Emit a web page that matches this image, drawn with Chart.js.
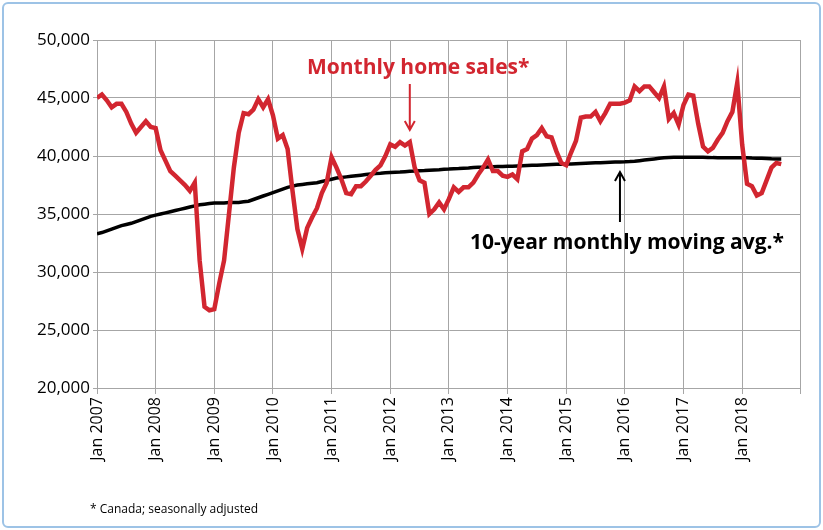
<!DOCTYPE html>
<html>
<head>
<script src="https://cdn.jsdelivr.net/npm/chart.js@4/dist/chart.umd.min.js"></script>
<style>
  body { margin: 0; background: #fff; }
  #wrap { position: absolute; left: 2px; top: 2px; width: 815px; height: 522px; border: 2px solid #9dc3e6; border-radius: 6px; }
  #chart { position: absolute; left: 0; top: 0; }
</style>
</head>
<body>
<div id="wrap"></div>
<canvas id="chart" width="823" height="530"></canvas>
<script>
// monthly values, Jan 2007 .. Sep 2018
const sales = {
    2007: [45000, 45300, 44800, 44200, 44500, 44500, 43800, 42800, 42000, 42500, 43000, 42500],
    2008: [42400, 40500, 39600, 38700, 38300, 37900, 37500, 37000, 37700, 31000, 27000, 26700],
    2009: [26800, 29000, 31000, 35000, 39000, 42000, 43700, 43600, 44000, 44900, 44200, 44900],
    2010: [43500, 41500, 41800, 40600, 37000, 33700, 32000, 33800, 34700, 35500, 36800, 37700],
    2011: [39900, 39000, 38000, 36800, 36700, 37400, 37400, 37800, 38300, 38800, 39200, 40000],
    2012: [41000, 40800, 41200, 40900, 41200, 39000, 37900, 37700, 35000, 35400, 36000, 35400],
    2013: [36300, 37300, 36900, 37300, 37300, 37700, 38400, 39000, 39700, 38700, 38700, 38300],
    2014: [38200, 38400, 38000, 40400, 40600, 41500, 41800, 42400, 41700, 41600, 40400, 39400],
    2015: [39200, 40300, 41300, 43300, 43400, 43400, 43800, 43000, 43700, 44500, 44500, 44500],
    2016: [44600, 44800, 46000, 45600, 46000, 46000, 45500, 45000, 46000, 43200, 43700, 42700],
    2017: [44400, 45300, 45200, 42800, 40800, 40400, 40700, 41400, 42000, 43000, 43800, 46300],
    2018: [41000, 37600, 37400, 36600, 36800, 37900, 39000, 39400, 39300]
};

const average = {
    2007: [33300, 33400, 33550, 33700, 33850, 34000, 34100, 34200, 34350, 34500, 34650, 34800],
    2008: [34900, 35000, 35100, 35200, 35300, 35400, 35500, 35600, 35700, 35800, 35850, 35900],
    2009: [35950, 35950, 35950, 36000, 36000, 36000, 36050, 36100, 36250, 36400, 36550, 36700],
    2010: [36850, 37000, 37150, 37300, 37400, 37500, 37550, 37600, 37650, 37700, 37800, 37900],
    2011: [38000, 38100, 38150, 38200, 38250, 38300, 38350, 38400, 38450, 38500, 38520, 38550],
    2012: [38580, 38600, 38620, 38650, 38680, 38700, 38730, 38750, 38780, 38800, 38820, 38850],
    2013: [38870, 38900, 38920, 38950, 38970, 39000, 39020, 39040, 39060, 39080, 39090, 39100],
    2014: [39110, 39120, 39140, 39160, 39180, 39200, 39210, 39230, 39250, 39270, 39280, 39290],
    2015: [39300, 39320, 39340, 39360, 39380, 39400, 39410, 39420, 39440, 39460, 39480, 39490],
    2016: [39500, 39520, 39550, 39600, 39650, 39700, 39750, 39800, 39850, 39880, 39900, 39900],
    2017: [39900, 39900, 39900, 39900, 39900, 39880, 39860, 39850, 39850, 39850, 39850, 39850],
    2018: [39850, 39850, 39820, 39800, 39800, 39780, 39760, 39750, 39750]
};

let salesPoints = [];
let averagePoints = [];

for (const year in sales) {
    for (let m = 0; m < sales[year].length; m++) {
        let x = (year - 2007) * 12 + m;
        salesPoints.push({ x: x, y: sales[year][m] });
        averagePoints.push({ x: x, y: average[year][m] });
    }
}

const annotations = {
    id: 'annotations',
    afterDraw: (chart) => {
        const ctx = chart.ctx;
        const xs = chart.scales.x;
        ctx.save();
        ctx.font = 'bold 21px "Open Sans", sans-serif';
        ctx.textBaseline = 'middle';

        // red label + arrow
        ctx.fillStyle = '#d22630';
        ctx.strokeStyle = '#d22630';
        ctx.fillText('Monthly home sales*', 307, 68);
        drawArrow(ctx, xs.getPixelForValue(64), 84, 130);

        // black label + arrow
        ctx.fillStyle = '#000';
        ctx.strokeStyle = '#000';
        ctx.fillText('10-year monthly moving avg.*', 470, 243);
        drawArrow(ctx, xs.getPixelForValue(107), 222, 172);

        ctx.font = '12px "Open Sans", sans-serif';
        ctx.fillText('* Canada; seasonally adjusted', 90, 510);
        ctx.restore();
    }
};

function drawArrow(ctx, x, y0, y1) {
    let dir = y1 > y0 ? 1 : -1;
    ctx.lineWidth = 2;
    ctx.beginPath();
    ctx.moveTo(x, y0);
    ctx.lineTo(x, y1);
    ctx.moveTo(x - 5, y1 - dir * 9);
    ctx.lineTo(x, y1);
    ctx.lineTo(x + 5, y1 - dir * 9);
    ctx.stroke();
}

const config = {
    type: 'line',
    data: {
        datasets: [
            {
                label: 'Monthly home sales*',
                data: salesPoints,
                borderColor: '#d22630',
                borderWidth: 4.5,
                pointRadius: 0,
                tension: 0
            },
            {
                label: '10-year monthly moving avg.*',
                data: averagePoints,
                borderColor: '#000',
                borderWidth: 3.5,
                pointRadius: 0,
                tension: 0
            }
        ]
    },
    options: {
        responsive: false,
        animation: false,
        plugins: {
            legend: { display: false },
            tooltip: { enabled: false }
        },
        layout: {
            padding: { left: 8, right: 3, top: 40, bottom: 47 }
        },
        scales: {
            x: {
                type: 'linear',
                min: 0,
                max: 144,
                afterFit: (scale) => { scale.height = 95; },
                ticks: {
                    stepSize: 12,
                    autoSkip: false,
                    maxRotation: 90,
                    minRotation: 90,
                    color: '#000',
                    font: { size: 16, family: '"Open Sans", sans-serif' },
                    callback: (v) => v < 144 ? 'Jan ' + (2007 + v / 12) : ''
                },
                grid: { color: '#a6a6a6', drawTicks: true, tickLength: 6 },
                border: { color: '#a6a6a6' }
            },
            y: {
                min: 20000,
                max: 50000,
                afterFit: (scale) => { scale.width = 89; },
                ticks: {
                    stepSize: 5000,
                    color: '#000',
                    font: { size: 17, family: '"Open Sans", sans-serif' },
                    callback: (v) => v.toLocaleString('en-US')
                },
                grid: { color: '#a6a6a6', tickLength: 4 },
                border: { color: '#a6a6a6' }
            }
        }
    },
    plugins: [annotations]
};

let chart = new Chart(document.getElementById('chart'), config);
</script>
</body>
</html>
